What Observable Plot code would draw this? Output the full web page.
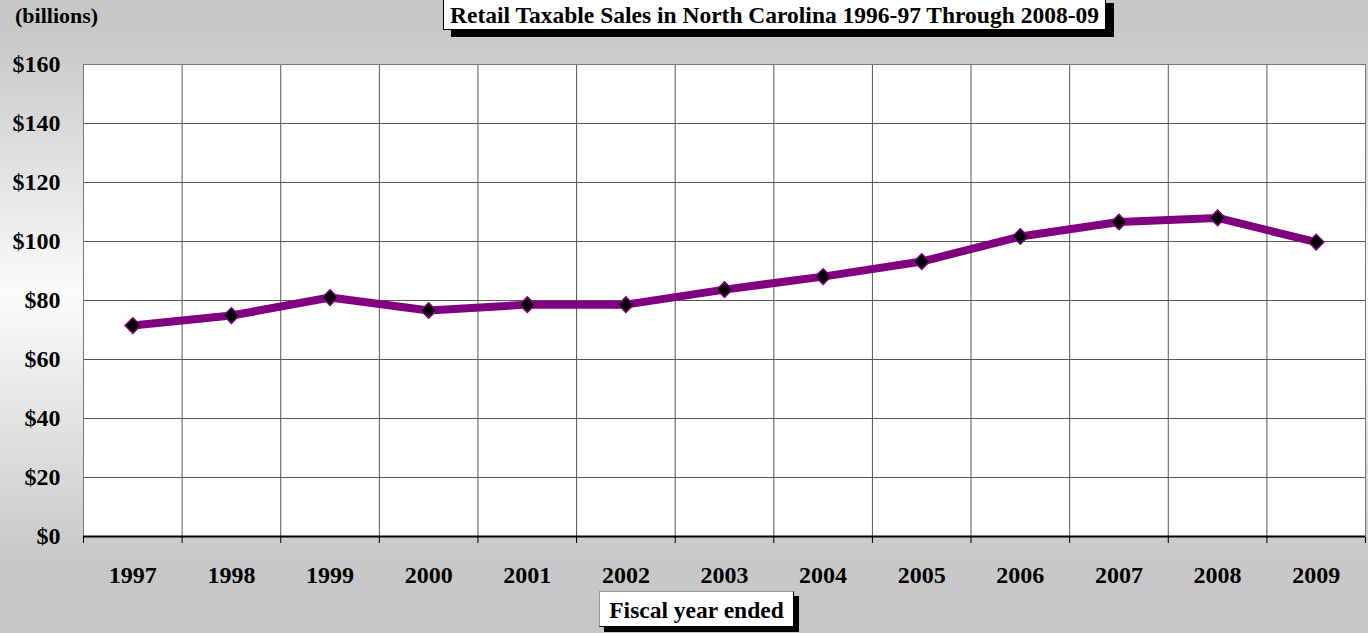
<!DOCTYPE html>
<html>
<head>
<meta charset="utf-8">
<script src="https://cdn.jsdelivr.net/npm/d3@7"></script>
<script src="https://cdn.jsdelivr.net/npm/@observablehq/plot@0.6"></script>
<style>
  html, body { margin: 0; padding: 0; }
  #wrap {
    position: relative; width: 1368px; height: 633px; overflow: hidden;
    background: linear-gradient(to bottom, #c6c6c6 0px, #c9c9c9 40px, #fbfbfb 295px, #c8c8c8 560px, #c6c6c6 633px);
    font-family: "Liberation Serif", "Times New Roman", serif; font-weight: bold; color: #000;
  }
  #chart { position: absolute; left: 0; top: 0; }
  .box {
    position: absolute; background: #fff; border: 1px solid #000; box-sizing: border-box;
    text-align: center; white-space: nowrap;
  }
  #title { left: 443px; top: -4px; width: 663px; height: 34px; font-size: 23.5px; line-height: 36px; box-shadow: 8px 7px 0 #000; }
  #xlabel { left: 599px; top: 591px; width: 195px; height: 36px; font-size: 23.5px; line-height: 37px; box-shadow: 5px 5px 0 #000; border-left-color: #999; border-top-color: #999; }
  #units { position: absolute; left: 15px; top: 3px; font-size: 22px; }
</style>
</head>
<body>
<div id="wrap">
  <div id="chart"></div>
  <div id="units">(billions)</div>
  <div id="title" class="box">Retail Taxable Sales in North Carolina 1996-97 Through 2008-09</div>
  <div id="xlabel" class="box">Fiscal year ended</div>
</div>
<script>
const years = [1997, 1998, 1999, 2000, 2001, 2002, 2003, 2004, 2005, 2006, 2007, 2008, 2009];
const sales = [71.5, 74.9, 81.0, 76.6, 78.6, 78.6, 83.7, 88.1, 93.2, 101.7, 106.6, 108.0, 99.8];
const yTicks = [0, 20, 40, 60, 80, 100, 120, 140, 160];

const data = years.map((y, i) => ({year: y, value: sales[i]}));
const boundaries = [years[0] - 0.5, ...years.map(y => y + 0.5)];

const chart = Plot.plot({
  width: 1368,
  height: 633,
  marginLeft: 83,
  marginRight: 3,
  marginTop: 64,
  marginBottom: 97,
  style: {background: "transparent", fontFamily: "Liberation Serif, serif", fontSize: "24px", fontWeight: "bold", color: "#000"},
  x: {domain: [boundaries[0], boundaries[boundaries.length - 1]], ticks: boundaries, tickSize: 7, tickFormat: () => "", label: null},
  y: {domain: [0, 160], ticks: yTicks, tickSize: 0, tickPadding: 23, tickFormat: d => "$" + d, label: null},
  marks: [
    Plot.frame({fill: "white", stroke: "none"}),
    Plot.ruleY(yTicks.filter(d => d > 0), {stroke: "#555", strokeWidth: 1}),
    Plot.ruleX(boundaries, {stroke: "#555", strokeWidth: 1}),
    Plot.frame({stroke: "#777", strokeWidth: 1}),
    Plot.ruleY([0], {stroke: "#000", strokeWidth: 2}),
    Plot.line(data, {x: "year", y: "value", stroke: "#800080", strokeWidth: 8, curve: "linear"}),
    Plot.dot(data, {x: "year", y: "value", symbol: "diamond2", r: 7, fill: "#000", stroke: "#800080", strokeWidth: 1.5}),
    Plot.text(years, {x: d => d, y: () => 0, dy: 39, text: d => String(d), fontSize: 24, fontWeight: "bold", fill: "#000"})
  ]
});
document.getElementById("chart").appendChild(chart);
</script>
</body>
</html>
